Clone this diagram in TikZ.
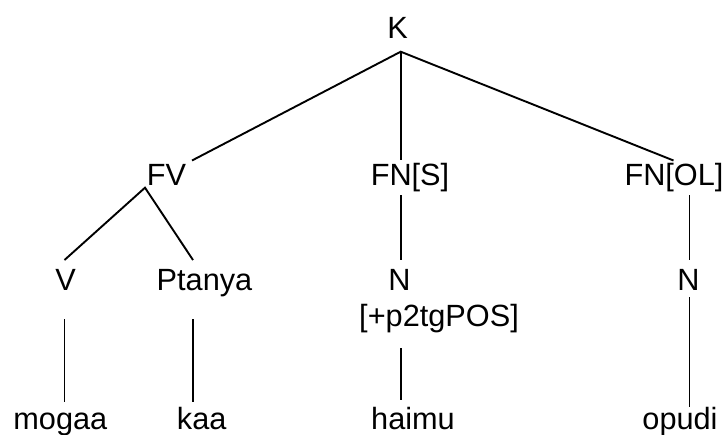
\documentclass[tikz,border=0pt]{standalone}
\usepackage{fontspec}
\setmainfont{Liberation Sans}
\usetikzlibrary{positioning}
\tikzset{%
	word/.style   = {inner sep=0pt, anchor=base, font=\fontsize{30.7}{36}\selectfont},
	branch/.style = {line width=1.9pt},
}

\begin{document}
\begin{tikzpicture}[x=1pt,y=1pt]
	\useasboundingbox (0,0) rectangle (726,-434);
	
	% labels
	\node[word] (K)    at (397.5,-38.3) {K};
	\node[word] (FV)   at (166.5,-185)  {FV};
	\node[word] (FNS)  at (410,-185)    {FN[S]};
	\node[word] (FNOL) at (674,-185)    {FN[OL]};
	\node[word] (V)    at (65.5,-290)   {V};
	\node[word] (Pt)   at (204.5,-290)  {Ptanya};
	\node[word] (Ns)   at (399.5,-290)  {N};
	\node[word] (Nol)  at (688.5,-290)  {N};
	\node[word] (feat) at (439,-326.7)  {[+p2tgPOS]};
	\node[word] (mog)  at (60.3,-429)   {mogaa};
	\node[word] (kaa)  at (201.7,-429)  {kaa};
	\node[word] (hai)  at (413,-429)    {haimu};
	\node[word] (opu)  at (680,-429)    {opudi};
	
	% line ends
	\coordinate (K-b)    at (400.7,-51.7);
	\coordinate (FV-t)   at (192,-160.5);
	\coordinate (FNS-t)  at (400.7,-160);
	\coordinate (FNOL-t) at (673.5,-160.5);
	\coordinate (FV-b)   at (145,-187.7);
	\coordinate (FNS-b)  at (400.7,-195);
	\coordinate (FNOL-b) at (689.5,-195);
	\coordinate (V-t)    at (64.5,-260);
	\coordinate (Pt-t)   at (193,-260);
	\coordinate (Ns-t)   at (400.7,-260);
	\coordinate (Nol-t)  at (689.5,-260);
	\coordinate (V-b)    at (64.5,-319);
	\coordinate (Pt-b)   at (192.8,-319);
	\coordinate (feat-b) at (400.7,-348);
	\coordinate (Nol-b)  at (689.5,-297);
	\coordinate (mog-t)  at (64.5,-402);
	\coordinate (kaa-t)  at (192.8,-402);
	\coordinate (hai-t)  at (400.7,-400);
	\coordinate (opu-t)  at (689.5,-407);
	
	% branches
	\draw[branch] (FV-t) -- (K-b) -- (FNOL-t);
	\draw[branch] (K-b) -- (FNS-t);
	\draw[branch] (V-t) -- (FV-b) -- (Pt-t);
	\draw[branch] (FNS-b) -- (Ns-t);
	\draw[branch] (FNOL-b) -- (Nol-t);
	\draw[branch] (V-b) -- (mog-t);
	\draw[branch] (Pt-b) -- (kaa-t);
	\draw[branch] (feat-b) -- (hai-t);
	\draw[branch] (Nol-b) -- (opu-t);
\end{tikzpicture}
\end{document}
